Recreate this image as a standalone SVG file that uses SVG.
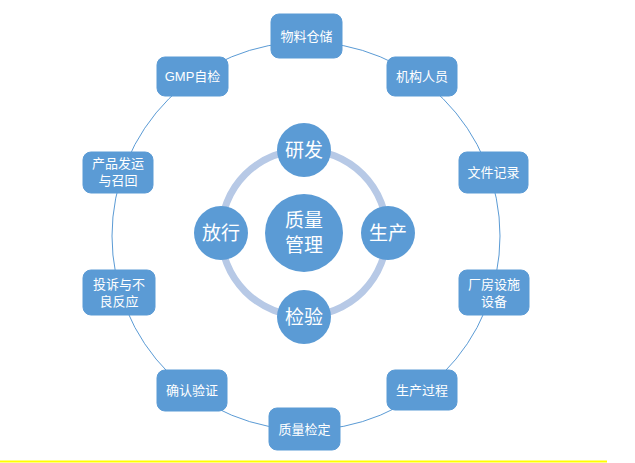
<svg xmlns="http://www.w3.org/2000/svg" width="635" height="463" viewBox="0 0 635 463">
<style>
.b{fill:#5b9bd5;stroke:#5b9bd5}
.t{font-family:"Liberation Sans","Noto Sans CJK SC",sans-serif;fill:#fff;font-size:13px;text-anchor:middle}
.c{fill:#5b9bd5}
.ct{font-family:"Noto Sans CJK SC",sans-serif;fill:#fff;font-size:19px;text-anchor:middle}
</style>
<rect width="635" height="463" fill="#fff"/>
<line x1="0" y1="461.5" x2="607" y2="461.5" stroke="#ffff00" stroke-width="2"/>
<g id="connectors">
<circle cx="306" cy="236" r="194" fill="none" stroke="#5b9bd5" stroke-width="1"/>
<circle cx="304" cy="233" r="83" fill="none" stroke="#b7c9e6" stroke-width="7"/>
</g>
<g id="n1"><rect class="b" x="271" y="14" width="71" height="44" rx="8"/><text class="t" x="306.5" y="41">物料仓储</text></g>
<g id="n2"><rect class="b" x="387" y="57" width="70" height="39" rx="8"/><text class="t" x="422" y="81">机构人员</text></g>
<g id="n3"><rect class="b" x="459" y="152" width="69" height="41" rx="8"/><text class="t" x="493.5" y="177">文件记录</text></g>
<g id="n4"><rect class="b" x="459" y="270" width="70" height="45" rx="8"/><text class="t" x="494" y="289">厂房设施</text><text class="t" x="494" y="306">设备</text></g>
<g id="n5"><rect class="b" x="387" y="370" width="70" height="40" rx="8"/><text class="t" x="422" y="395">生产过程</text></g>
<g id="n6"><rect class="b" x="269" y="408" width="71" height="42" rx="8"/><text class="t" x="304.5" y="434">质量检定</text></g>
<g id="n7"><rect class="b" x="157" y="370" width="70" height="41" rx="8"/><text class="t" x="192" y="395">确认验证</text></g>
<g id="n8"><rect class="b" x="83" y="270" width="72" height="45" rx="8"/><text class="t" x="119" y="289">投诉与不</text><text class="t" x="119" y="306">良反应</text></g>
<g id="n9"><rect class="b" x="83" y="152" width="70" height="41" rx="8"/><text class="t" x="118" y="168">产品发运</text><text class="t" x="118" y="185">与召回</text></g>
<g id="n10"><rect class="b" x="157" y="57" width="71" height="39" rx="8"/><text class="t" x="192.5" y="81">GMP自检</text></g>
<g id="center"><circle class="c" cx="304" cy="233" r="39"/><text class="ct" x="304" y="227">质量</text><text class="ct" x="304" y="252">管理</text></g>
<g id="rd"><circle class="c" cx="304" cy="150" r="27"/><text class="ct" x="304" y="157">研发</text></g>
<g id="prod"><circle class="c" cx="388" cy="233" r="27"/><text class="ct" x="388" y="240">生产</text></g>
<g id="insp"><circle class="c" cx="304" cy="317" r="27"/><text class="ct" x="304" y="324">检验</text></g>
<g id="rel"><circle class="c" cx="221" cy="233" r="27"/><text class="ct" x="221" y="240">放行</text></g>
</svg>
